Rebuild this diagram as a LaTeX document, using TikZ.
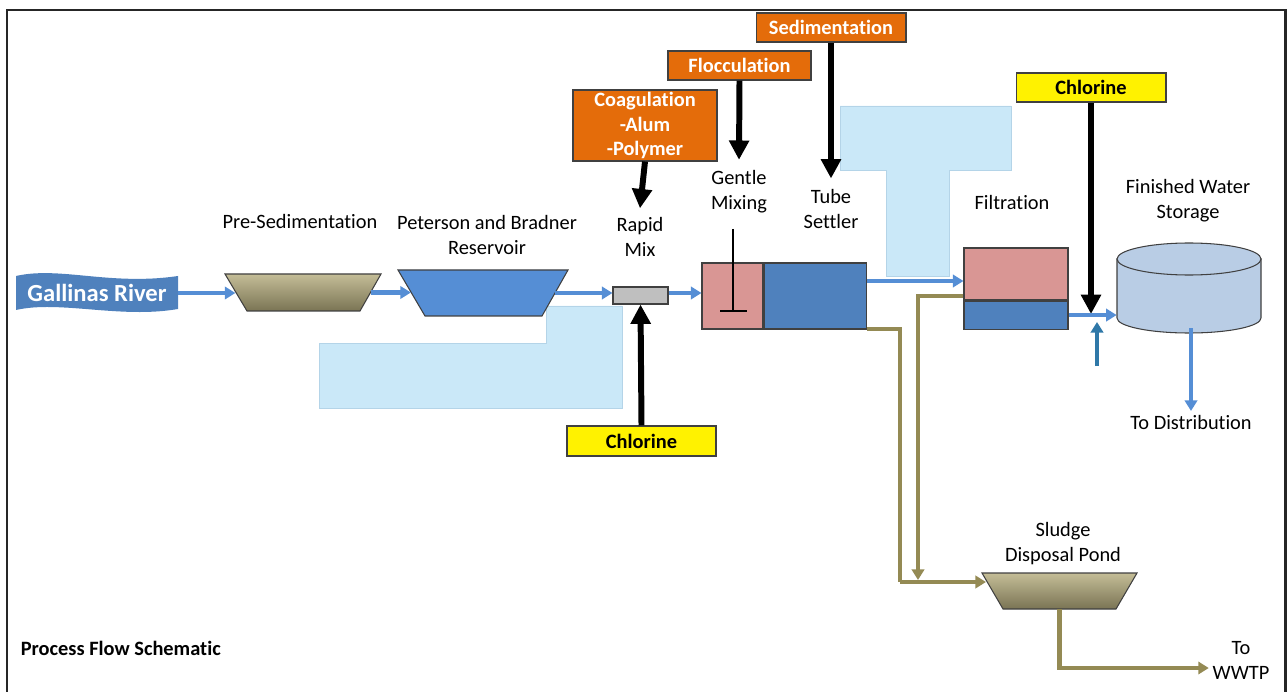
\documentclass[tikz,border=0pt]{standalone}
\usepackage{fontspec}
\setmainfont{Carlito}[Ligatures=NoCommon]
\usepackage{tikz}
\usetikzlibrary{arrows.meta,positioning}

\definecolor{riverblue}{HTML}{4F81BD}
\definecolor{flowblue}{HTML}{558ED5}
\definecolor{resblue}{HTML}{558ED5}
\definecolor{tankpink}{HTML}{D99694}
\definecolor{tankblue}{HTML}{4F81BD}
\definecolor{storeblue}{HTML}{B9CDE5}
\definecolor{dosecol}{HTML}{E46C0A}
\definecolor{mud}{HTML}{948A54}
\definecolor{mudtop}{HTML}{C4BD97}
\definecolor{mudbot}{HTML}{7A7454}
\definecolor{boxedge}{HTML}{404040}
\definecolor{patchblue}{HTML}{CAE8F8}
\definecolor{patchedge}{HTML}{B4D4E8}
\definecolor{tapblue}{HTML}{2F78A8}
\definecolor{framecol}{HTML}{262626}

\begin{document}
\begin{tikzpicture}[x=0.02cm,y=-0.02cm]
\tikzstyle{lbl}=[font=\fontsize{11.6}{14.2}\selectfont, align=center, inner sep=2pt]
\tikzstyle{tag}=[draw=boxedge, line width=0.6pt, font=\fontsize{11.6}{14.2}\selectfont\bfseries, align=center, inner sep=0pt]
\tikzstyle{dose}=[tag, fill=dosecol, text=white]
\tikzstyle{chlor}=[tag, fill=yellow]
\tikzstyle{basin}=[draw=boxedge, line width=0.6pt, inner sep=0pt]
\tikzstyle{mudbasin}=[basin, top color=mudtop, bottom color=mudbot]
\tikzstyle{spot}=[inner sep=0pt]
\tikzstyle{flow}=[-{Triangle[width=7pt,length=6pt]}, line width=2.3pt, flowblue]
\tikzstyle{sludge}=[-{Triangle[width=7pt,length=6pt]}, line width=2.3pt, mud]
\tikzstyle{feed}=[-{Triangle[width=11pt,length=11pt]}, line width=3.4pt, black]
\tikzstyle{patch}=[fill=patchblue, draw=patchedge, line width=0.4pt]
\useasboundingbox (0,0) rectangle (1287,692);

% frame
\draw[line width=1.7pt, framecol] (7,700) -- (7,10) -- (1285,10) -- (1285,700);

% blank patches
\draw[patch] (319,343) -- (546,343) -- (546,306) -- (622,306) -- (622,408) -- (319,408) -- cycle;
\draw[patch] (840,106) -- (1011,106) -- (1011,170) -- (949,170) -- (949,276) -- (886,276) -- (886,170) -- (840,170) -- cycle;

% river
\fill[riverblue] (16,276) .. controls (60,266) and (110,286) .. (178,276) -- (178,309) .. controls (120,319) and (60,300) .. (16,310) -- cycle;
\node[font=\fontsize{14}{16}\selectfont\bfseries, text=white] (river) at (97,293) {Gallinas River};

% basins (trapezoids drawn, nodes sized to their mid width)
\draw[mudbasin] (225,274) -- (381,274) -- (360,311) -- (247,311) -- cycle;
\node[spot, minimum width=2.69cm, minimum height=0.74cm] (presed) at (303,292.5) {};
\draw[basin, fill=resblue] (398,270) -- (568,270) -- (542,316) -- (425,316) -- cycle;
\node[spot, minimum width=2.87cm, minimum height=0.92cm] (res) at (483,293) {};
\draw[mudbasin] (982,573) -- (1137,573) -- (1116,609) -- (1003,609) -- cycle;
\node[spot, minimum width=2.68cm, minimum height=0.72cm] (sludgepond) at (1059.5,591) {};

\node[basin, fill=black!25, minimum width=1.1cm, minimum height=0.34cm] (mix) at (640.5,295.5) {};
\node[basin, fill=tankpink, minimum width=1.22cm, minimum height=1.32cm] (pink) at (732.5,296) {};
\node[basin, fill=tankblue, minimum width=2.04cm, minimum height=1.32cm, right=0pt of pink] (tank) {};
\node[basin, fill=tankpink, minimum width=2.08cm, minimum height=1.04cm] (fpink) at (1016,274) {};
\node[basin, fill=tankblue, minimum width=2.08cm, minimum height=0.56cm, below=0pt of fpink] (fblue) {};

% storage tank
\filldraw[fill=storeblue, draw=boxedge, line width=0.6pt] (1117,259) -- (1117,318) arc[start angle=180, end angle=0, x radius=72, y radius=15] -- (1261,259) -- cycle;
\filldraw[fill=storeblue, draw=boxedge, line width=0.6pt] (1189,259) ellipse [x radius=72, y radius=16];
\node[spot, minimum width=2.9cm, minimum height=1.8cm] (store) at (1189.5,288) {};

% mixer
\draw[line width=1.3pt] (733,229) -- (733,311);
\draw[line width=1.3pt] (720,311) -- (747,311);

% labels
\node[lbl] (presedlbl) at (300,222) {Pre-Sedimentation};
\node[lbl] (reslbl) at (487,235) {Peterson and Bradner\\Reservoir};
\node[lbl] (rapidlbl) at (640,237) {Rapid\\Mix};
\node[lbl] (gentlelbl) at (739,192) {Gentle\\Mixing};
\node[lbl] (tubelbl) at (831,209) {Tube\\Settler};
\node[lbl] (filtlbl) at (1012,203) {Filtration};
\node[lbl] (storelbl) at (1188,201) {Finished Water\\Storage};
\node[lbl] (dist) at (1191,422) {To Distribution};
\node[lbl] (sludgelbl) at (1063,544) {Sludge\\Disposal Pond};
\node[lbl] (wwtp) at (1241,660) {To\\WWTP};
\node[lbl, font=\fontsize{11.6}{14.2}\selectfont\bfseries, anchor=west] (title) at (17,648) {Process Flow Schematic};

% chemical feeds
\node[dose, minimum width=2.88cm, minimum height=1.42cm] (coag) at (645,125.5) {Coagulation\\-Alum\\-Polymer};
\node[dose, minimum width=2.86cm, minimum height=0.58cm] (floc) at (739.5,65.5) {Flocculation};
\node[dose, minimum width=3.0cm, minimum height=0.58cm] (sed) at (831,27.5) {Sedimentation};
\node[chlor, minimum width=2.98cm, minimum height=0.6cm] (cl1) at (641.5,441) {Chlorine};
\node[chlor, minimum width=3.0cm, minimum height=0.58cm] (cl2) at (1091,87.5) {Chlorine};

\coordinate (inj) at (1091,314);
\coordinate (tap) at (1097,366);
\coordinate (tapend) at (1097,322);
\coordinate (j1) at (900,582);
\coordinate (pin) at (986,582);
\coordinate (j2) at (918,580);

\draw[feed] (coag.south) -- ([yshift=3pt]rapidlbl.north);
\draw[feed] (floc.south) -- ([yshift=4pt]gentlelbl.north);
\draw[feed] (sed.south) -- ([yshift=4pt]tubelbl.north);
\draw[feed] (cl1.north) -- (mix.south);
\draw[feed] (cl2.south) -- (inj);

% main flow
\draw[flow] (river.east -| 178,0) -- (river.east -| presed.west);
\draw[flow] (presed.east) -- (presed.east -| res.west);
\draw[flow] (res.east) -- (res.east -| mix.west);
\draw[flow] (res.east -| mix.east) -- (res.east -| pink.west);
\draw[flow] ([yshift=0.3cm]tank.east) -- ([yshift=0.3cm]tank.east -| fpink.west);
\draw[flow] (fblue.east) -- (fblue.east -| store.west);
\draw[flow, tapblue, line width=1.8pt] (tap) -- (tapend);
\draw[flow] ([yshift=0.1cm]dist.north |- store.south) -- (dist.north);

% sludge lines
\draw[sludge, -] ([yshift=0.02cm]tank.south east) -| (j1);
\draw[sludge] (j1) -- (pin);
\draw[sludge] ([yshift=0.1cm]fpink.south west) -| (j2);
\draw[sludge] (sludgepond.south) |- ([yshift=-0.16cm]wwtp.west);

\end{tikzpicture}
\end{document}
